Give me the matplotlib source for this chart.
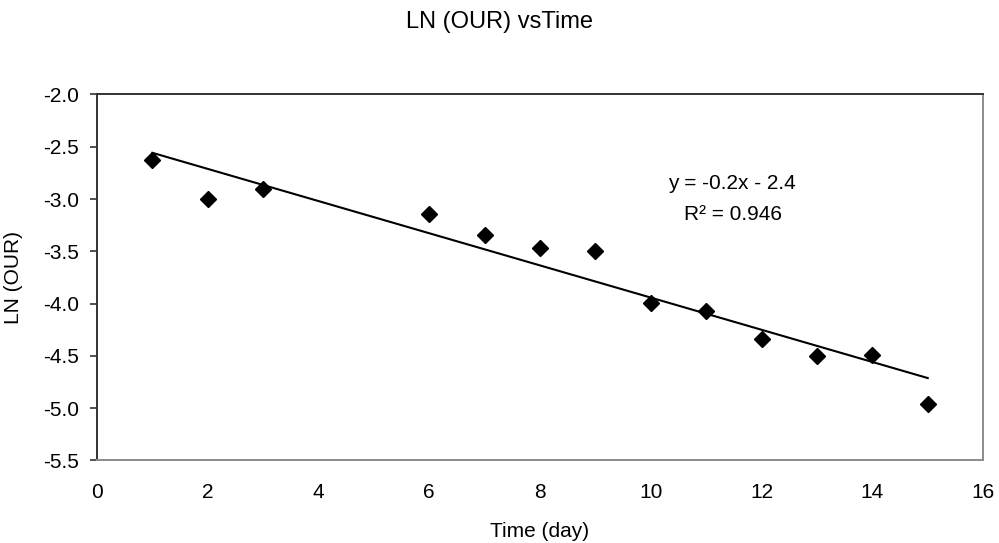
import numpy as np
import matplotlib
matplotlib.use("Agg")
import matplotlib.pyplot as plt

plt.rcParams['font.family'] = ['Liberation Sans', 'DejaVu Sans']

# data
days = [1, 2, 3, 6, 7, 8, 9, 10, 11, 12, 13, 14, 15]
ln_our = [-2.63, -3.00, -2.90, -3.14, -3.34, -3.47, -3.50,
          -3.99, -4.07, -4.34, -4.50, -4.49, -4.96]
x_ticks = [0, 2, 4, 6, 8, 10, 12, 14, 16]
y_ticks = [-2.0, -2.5, -3.0, -3.5, -4.0, -4.5, -5.0, -5.5]

fig = plt.figure(figsize=(9.99, 5.43), dpi=100)
ax = fig.add_axes([0.0971, 0.152, 0.887, 0.674])

# linear trend line over the data range
slope, intercept = np.polyfit(days, ln_our, 1)
xs = np.array([min(days), max(days)])
ax.plot(xs, slope * xs + intercept, color='black', lw=1.5, zorder=2)

ax.plot(days, ln_our, linestyle='none', marker='D', markersize=8,
        color='black', zorder=3)

ax.set_xlim(0, 16)
ax.set_ylim(-5.5, -2.0)
ax.set_xticks(x_ticks)
ax.set_yticks(y_ticks)
ax.set_yticklabels([f"{v:.1f}" for v in y_ticks])
ax.tick_params(axis='x', length=0, pad=16, labelsize=15)
ax.tick_params(axis='y', length=5, width=1.2, pad=8, labelsize=15,
               color='#333333')

ax.spines['top'].set_color('#333333')
ax.spines['left'].set_color('#333333')
ax.spines['right'].set_color('#8c8c8c')
ax.spines['bottom'].set_color('#8c8c8c')
for s in ax.spines.values():
    s.set_linewidth(1.4)

ax.set_ylabel('LN (OUR)', fontsize=15)
ax.yaxis.set_label_coords(-0.0835, 0.5)
ax.set_xlabel('Time (day)', fontsize=15)
ax.xaxis.set_label_coords(0.5, -0.167)

ax.text(11.46, -2.85, 'y = -0.2x - 2.4', fontsize=15, ha='center', va='center')
ax.text(11.48, -3.15, 'R² = 0.946', fontsize=15, ha='center', va='center')

fig.text(0.5, 0.959, 'LN (OUR) vsTime', fontsize=17, ha='center', va='center')

fig.savefig('out.png', dpi=100)
